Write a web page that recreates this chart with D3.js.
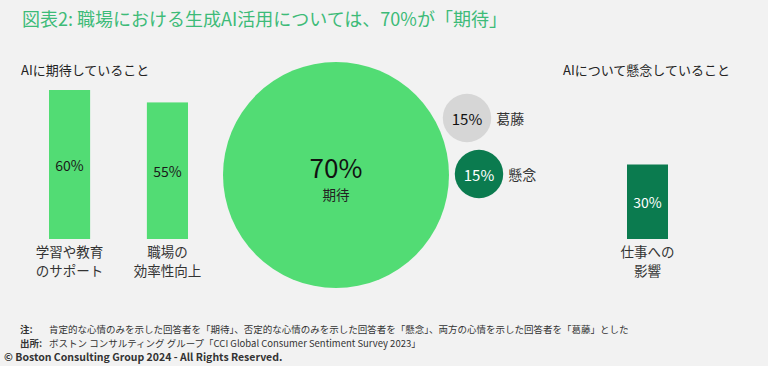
<!DOCTYPE html>
<html>
<head>
<meta charset="utf-8">
<script src="https://cdn.jsdelivr.net/npm/d3@7"></script>
<style>
  body { margin: 0; background: #f2f2f2; }
  svg { display: block; font-family: "Noto Sans CJK JP", "Noto Sans", sans-serif; }
</style>
</head>
<body>
<div id="chart"></div>
<script>
// data
const titleText = "図表2: 職場における生成AI活用については、70%が「期待」";
const expectHeading = "AIに期待していること";
const concernHeading = "AIについて懸念していること";
const expectCats = [["学習や教育", "のサポート"], ["職場の", "効率性向上"]];
const expectValues = [60, 55];
const concernCats = [["仕事への", "影響"]];
const concernValues = [30];
const sentimentLabels = ["期待", "葛藤", "懸念"];
const sentimentValues = [70, 15, 15];
const noteLines = [
    ["注:", "肯定的な心情のみを示した回答者を「期待」、否定的な心情のみを示した回答者を「懸念」、両方の心情を示した回答者を「葛藤」とした"],
    ["出所:", "ボストン コンサルティング グループ「CCI Global Consumer Sentiment Survey 2023」"]
];
const copyright = "© Boston Consulting Group 2024 - All Rights Reserved.";

const width = 768, height = 366;
const green = "#52dc74", darkGreen = "#0b7b4f", grey = "#d6d6d6";

const svg = d3.select("#chart").append("svg")
    .attr("width", width)
    .attr("height", height);

svg.append("rect").attr("width", width).attr("height", height).attr("fill", "#f2f2f2");

// title
svg.append("text")
    .attr("x", 22).attr("y", 26)
    .attr("fill", "#3dbb78")
    .style("font-size", "18px")
    .text(titleText);

// headings
svg.append("text").attr("x", 21).attr("y", 75).attr("fill", "#222")
    .style("font-size", "13px").text(expectHeading);
svg.append("text").attr("x", 563).attr("y", 75).attr("fill", "#222")
    .style("font-size", "13px").text(concernHeading);

// shared value scale for bars
const y = d3.scaleLinear().domain([0, 60]).range([239, 90]);

function drawBars(cats, values, range, pad, fill, labelColor) {
    const x = d3.scaleBand()
        .domain(d3.range(cats.length))
        .range(range)
        .paddingInner(pad)
        .paddingOuter(0);
    const g = svg.append("g");
    g.selectAll("rect")
        .data(values)
        .join("rect")
        .attr("x", (d, i) => x(i))
        .attr("y", d => y(d))
        .attr("width", x.bandwidth())
        .attr("height", d => y(0) - y(d))
        .attr("fill", fill);
    g.selectAll(".val")
        .data(values)
        .join("text")
        .attr("class", "val")
        .attr("x", (d, i) => x(i) + x.bandwidth() / 2)
        .attr("y", d => (y(d) + y(0)) / 2)
        .attr("text-anchor", "middle")
        .attr("dominant-baseline", "central")
        .attr("fill", labelColor)
        .style("font-size", "14px")
        .text(d => d + "%");
    cats.forEach(function(lines, i) {
        lines.forEach(function(line, j) {
            g.append("text")
                .attr("x", x(i) + x.bandwidth() / 2)
                .attr("y", y(0) + 17.5 + j * 19.5)
                .attr("text-anchor", "middle")
                .attr("fill", "#333")
                .style("font-size", "13.5px")
                .text(line);
        });
    });
}

drawBars(expectCats, expectValues, [49, 188], 0.58, green, "#1a1a1a");
drawBars(concernCats, concernValues, [627, 668], 0, darkGreen, "#ffffff");

// bubbles
const r = d3.scaleLinear().domain([0, 70]).range([0, 113]);
const bubbleCenters = [[336, 175], [467, 118], [479, 174]];
const bubbleFills = [green, grey, darkGreen];

const bub = svg.append("g");
bub.selectAll("circle")
    .data(sentimentValues)
    .join("circle")
    .attr("cx", (d, i) => bubbleCenters[i][0])
    .attr("cy", (d, i) => bubbleCenters[i][1])
    .attr("r", d => r(d))
    .attr("fill", (d, i) => bubbleFills[i]);

// big bubble text
bub.append("text")
    .attr("x", bubbleCenters[0][0]).attr("y", 178)
    .attr("text-anchor", "middle").attr("fill", "#111")
    .style("font-size", "26px")
    .text(sentimentValues[0] + "%");
bub.append("text")
    .attr("x", bubbleCenters[0][0]).attr("y", 200)
    .attr("text-anchor", "middle").attr("fill", "#222")
    .style("font-size", "13.5px")
    .text(sentimentLabels[0]);

// small bubble values and labels
[1, 2].forEach(function(i) {
    bub.append("text")
        .attr("x", bubbleCenters[i][0]).attr("y", bubbleCenters[i][1])
        .attr("text-anchor", "middle").attr("dominant-baseline", "central")
        .attr("fill", i === 2 ? "#fff" : "#111")
        .style("font-size", "15px")
        .text(sentimentValues[i] + "%");
    bub.append("text")
        .attr("x", bubbleCenters[i][0] + r(sentimentValues[i]) + 5)
        .attr("y", bubbleCenters[i][1])
        .attr("dominant-baseline", "central")
        .attr("fill", "#333")
        .style("font-size", "14px")
        .text(sentimentLabels[i]);
});

// notes
noteLines.forEach(function(line, i) {
    const t = svg.append("text")
        .attr("x", 20).attr("y", 333 + i * 14)
        .attr("fill", "#333")
        .style("font-size", "9.5px");
    t.append("tspan").style("font-weight", "bold").text(line[0]);
    t.append("tspan").attr("x", 49).text(line[1]);
});
svg.append("text")
    .attr("x", 4).attr("y", 361)
    .attr("fill", "#333")
    .style("font-size", "10.5px").style("font-weight", "bold")
    .text(copyright);
</script>
</body>
</html>
